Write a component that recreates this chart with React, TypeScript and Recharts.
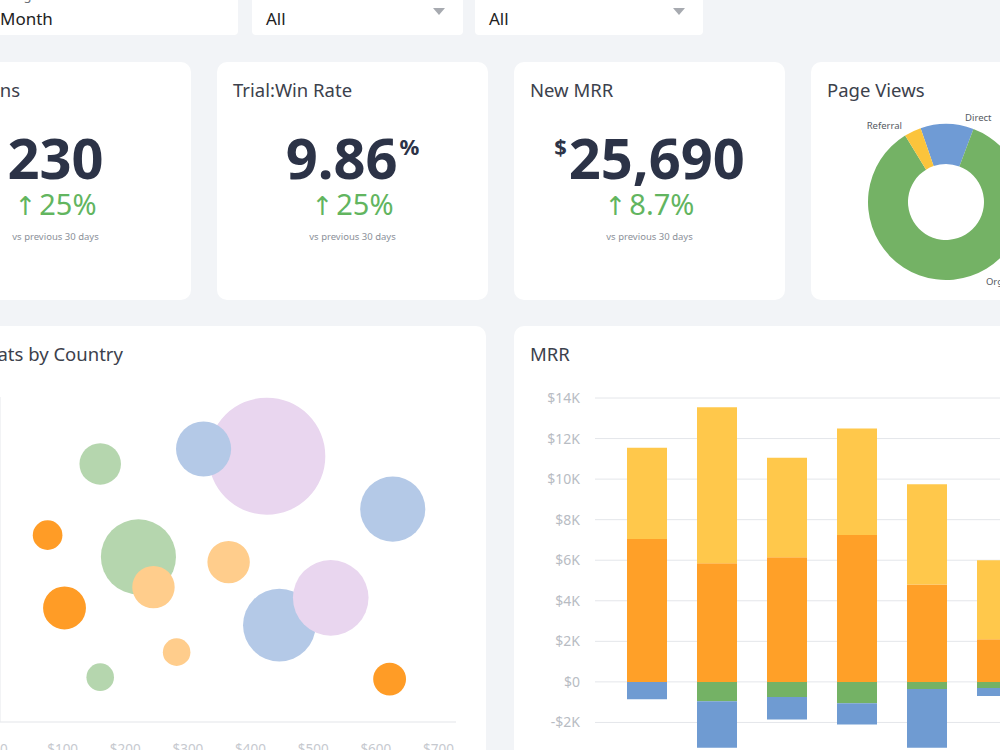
import React from 'react';
import {
  PieChart,
  Pie,
  Cell,
  ScatterChart,
  Scatter,
  XAxis,
  YAxis,
  ZAxis,
  BarChart,
  Bar,
  CartesianGrid,
} from 'recharts';

const FONT = '"Noto Sans", "DejaVu Sans", sans-serif';

// ---- Filters ----
const FILTER_LABELS = ['Range', 'Services', 'Posts'];
const FILTER_VALUES = ['Month', 'All', 'All'];

// ---- Page views by traffic source ----
const SOURCE_NAMES = ['Direct', 'Organic', 'Referral'];
const SOURCE_SHARE = [11, 85.5, 3.5];
const SOURCE_COLORS = ['#6f9bd5', '#74b265', '#fbc43c'];

// ---- MRR movements per month ----
const MONTHS = ['Jan', 'Feb', 'Mar', 'Apr', 'May', 'Jun'];
const MRR_NEW = [7050, 5850, 6150, 7250, 4800, 2100];
const MRR_EXPANSION = [4500, 7700, 4900, 5250, 4950, 3900];
const MRR_CONTRACTION = [0, -950, -750, -1050, -350, -300];
const MRR_CHURN = [-850, -2300, -1100, -1050, -2900, -400];
const MRR_TICKS = [-4000, -2000, 0, 2000, 4000, 6000, 8000, 10000, 12000, 14000];

// ---- Seats by country ----
const COUNTRIES = [
  'China', 'Canada', 'France', 'United States', 'Egypt', 'Germany', 'Brazil',
  'Argentina', 'Nigeria', 'Mexico', 'Japan', 'Chile', 'Spain', 'South Africa',
];
const SEAT_PRICE = [426, 325, 160, 627, 76, 221, 245, 365, 103, 446, 528, 282, 160, 622];
const SEAT_SCORE = [81.8, 84, 79.4, 65.5, 57.5, 50.8, 41.5, 49.2, 35.1, 29.8, 38.2, 21.5, 13.8, 13.2];
const SEAT_COUNT = [342, 76, 43, 106, 22, 141, 45, 45, 46, 132, 143, 19, 19, 27];
const COUNTRY_REGION = [
  'Asia', 'North America', 'Europe', 'North America', 'Africa', 'Europe', 'South America',
  'South America', 'Africa', 'North America', 'Asia', 'South America', 'Europe', 'Africa',
];
const PRICE_TICKS = [0, 100, 200, 300, 400, 500, 600, 700];

const REGION_COLORS: Record<string, string> = {
  Asia: '#e9d6ef',
  'North America': '#b4c9e7',
  Europe: '#b5d6ae',
  Africa: '#ff9c26',
  'South America': '#ffcd8c',
};

const pageViewData = SOURCE_NAMES.map((name, i) => ({ name, value: SOURCE_SHARE[i] }));

const mrrData = MONTHS.map((month, i) => ({
  month,
  newMrr: MRR_NEW[i],
  expansion: MRR_EXPANSION[i],
  contraction: MRR_CONTRACTION[i],
  churn: MRR_CHURN[i],
}));

const seatData = COUNTRIES.map((country, i) => ({
  country,
  price: SEAT_PRICE[i],
  score: SEAT_SCORE[i],
  seats: SEAT_COUNT[i],
  region: COUNTRY_REGION[i],
}));

// where each donut label sits: clockwise degrees from 12 o'clock, gap beyond the ring
const LABEL_PLACEMENT: Record<string, { angle: number; gap: number }> = {
  Direct: { angle: 21, gap: 12 },
  Organic: { angle: 144, gap: 20 },
  Referral: { angle: -39, gap: 20 },
};

const formatK = (v: number) => {
  if (v === 0) return '$0';
  const k = Math.abs(v) / 1000;
  return v < 0 ? `-$${k}K` : `$${k}K`;
};

const card: React.CSSProperties = {
  position: 'absolute',
  background: '#ffffff',
  borderRadius: 10,
};

const titleStyle: React.CSSProperties = {
  position: 'absolute',
  left: 16,
  top: 19,
  fontSize: 18.5,
  lineHeight: 1,
  color: '#3c414c',
  whiteSpace: 'nowrap',
};

function Filter({ left, width, label, value, arrow }: { left: number; width: number; label: string; value: string; arrow: boolean }) {
  return (
    <div style={{ ...card, left, top: -40, width, height: 75, borderRadius: 4 }}>
      <div style={{ position: 'absolute', left: 14, top: 29, fontSize: 13, lineHeight: 1, color: '#6b7079' }}>{label}</div>
      <div style={{ position: 'absolute', left: 14, top: 50, fontSize: 17, lineHeight: 1, color: '#222' }}>{value}</div>
      {arrow && (
        <div
          style={{
            position: 'absolute',
            right: 18,
            top: 48,
            width: 0,
            height: 0,
            borderLeft: '6px solid transparent',
            borderRight: '6px solid transparent',
            borderTop: '7px solid #a7aab0',
          }}
        />
      )}
    </div>
  );
}

function StatCard({ left, title, value, prefix, suffix, change }: { left: number; title: string; value: string; prefix?: string; suffix?: string; change: string }) {
  return (
    <div style={{ ...card, left, top: 62, width: 271, height: 238 }}>
      <div style={titleStyle}>{title}</div>
      <div
        style={{
          position: 'absolute',
          left: 0,
          right: 0,
          top: 67,
          textAlign: 'center',
          fontSize: 56,
          lineHeight: 1,
          fontWeight: 700,
          color: '#2c3347',
          whiteSpace: 'nowrap',
        }}
      >
        {prefix && <span style={{ fontSize: 22, verticalAlign: 'top', position: 'relative', top: 6, marginRight: 2 }}>{prefix}</span>}
        {value}
        {suffix && <span style={{ fontSize: 22, verticalAlign: 'top', position: 'relative', top: 6, marginLeft: 2 }}>{suffix}</span>}
      </div>
      <div
        style={{
          position: 'absolute',
          left: 0,
          right: 0,
          top: 127,
          textAlign: 'center',
          fontSize: 29,
          lineHeight: 1,
          color: '#62b55f',
          whiteSpace: 'nowrap',
        }}
      >
        <span style={{ fontFamily: '"DejaVu Sans", sans-serif', fontSize: 26, marginRight: 3 }}>↑</span>
        {change}
      </div>
      <div
        style={{
          position: 'absolute',
          left: 0,
          right: 0,
          top: 170,
          textAlign: 'center',
          fontSize: 9.5,
          lineHeight: 1,
          color: '#8b9099',
        }}
      >
        vs previous 30 days
      </div>
    </div>
  );
}

const renderSourceLabel = (props: any) => {
  const { cx, cy, outerRadius } = props;
  const name: string = props.name ?? props.payload?.name;
  const place = LABEL_PLACEMENT[name];
  if (!place) return null;
  const rad = (place.angle * Math.PI) / 180;
  const r = outerRadius + place.gap;
  const x = cx + r * Math.sin(rad);
  const y = cy - r * Math.cos(rad);
  return (
    <text x={x} y={y} textAnchor="middle" dominantBaseline="central" fontSize={9.5} fill="#555a62" fontFamily={FONT}>
      {name}
    </text>
  );
};

export default function App() {
  return (
    <div
      style={{
        position: 'fixed',
        left: 0,
        top: 0,
        width: 1000,
        height: 750,
        overflow: 'hidden',
        background: '#f2f4f7',
        fontFamily: FONT,
      }}
    >
      {/* filter bar */}
      <Filter left={-14} width={252} label={FILTER_LABELS[0]} value={FILTER_VALUES[0]} arrow={false} />
      <Filter left={252} width={211} label={FILTER_LABELS[1]} value={FILTER_VALUES[1]} arrow />
      <Filter left={475} width={228} label={FILTER_LABELS[2]} value={FILTER_VALUES[2]} arrow />

      {/* KPI row */}
      <StatCard left={-80} title="Trial Wins" value="230" change="25%" />
      <StatCard left={217} title="Trial:Win Rate" value="9.86" suffix="%" change="25%" />
      <StatCard left={514} title="New MRR" value="25,690" prefix="$" change="8.7%" />

      <div style={{ ...card, left: 811, top: 62, width: 271, height: 238 }}>
        <div style={titleStyle}>Page Views</div>
        <div style={{ position: 'absolute', left: 0, top: 40 }}>
          <PieChart width={271} height={198} margin={{ top: 0, right: 0, bottom: 0, left: 0 }}>
            <Pie
              data={pageViewData}
              dataKey="value"
              nameKey="name"
              cx={135}
              cy={100}
              innerRadius={38}
              outerRadius={78}
              startAngle={109}
              endAngle={-251}
              stroke="none"
              label={renderSourceLabel}
              labelLine={false}
              isAnimationActive={false}
            >
              {pageViewData.map((d, i) => (
                <Cell key={d.name} fill={SOURCE_COLORS[i]} />
              ))}
            </Pie>
          </PieChart>
        </div>
      </div>

      {/* seats by country bubble chart */}
      <div style={{ ...card, left: -86, top: 326, width: 572, height: 460 }}>
        <div style={titleStyle}>Total Seats by Country</div>
      </div>
      <div style={{ position: 'absolute', left: -50, top: 397 }}>
        <ScatterChart width={506} height={355} margin={{ top: 0, right: 0, bottom: 0, left: 0 }}>
          <XAxis
            type="number"
            dataKey="price"
            domain={[0, 728]}
            ticks={PRICE_TICKS}
            interval={0}
            tickFormatter={(v: number) => `$${v}`}
            axisLine={{ stroke: '#e3e5e9' }}
            tickLine={false}
            tickSize={0}
            tickMargin={22}
            height={30}
            tick={{ fill: '#c6c9cf', fontSize: 13.5, fontFamily: FONT }}
          />
          <YAxis
            type="number"
            dataKey="score"
            domain={[0, 100]}
            width={50}
            axisLine={{ stroke: '#e6e8eb' }}
            tickLine={false}
            tick={{ fill: '#c6c9cf', fontSize: 13, fontFamily: FONT }}
          />
          <ZAxis type="number" dataKey="seats" domain={[0, 400]} range={[0, 4000 * Math.PI]} />
          <Scatter data={seatData} isAnimationActive={false}>
            {seatData.map((d) => (
              <Cell key={d.country} fill={REGION_COLORS[d.region]} />
            ))}
          </Scatter>
        </ScatterChart>
      </div>

      {/* MRR stacked bars */}
      <div style={{ ...card, left: 514, top: 326, width: 560, height: 460 }}>
        <div style={titleStyle}>MRR</div>
      </div>
      <div style={{ position: 'absolute', left: 514, top: 393 }}>
        <BarChart
          width={518}
          height={375}
          data={mrrData}
          stackOffset="sign"
          barSize={40}
          margin={{ top: 5, right: 0, bottom: 5, left: 0 }}
        >
          <CartesianGrid vertical={false} stroke="#e4e6ea" />
          <XAxis dataKey="month" hide padding={{ left: 17, right: 0 }} />
          <YAxis
            width={81}
            domain={[-4000, 14000]}
            ticks={MRR_TICKS}
            interval={0}
            axisLine={false}
            tickLine={false}
            tickSize={0}
            tickMargin={15}
            tickFormatter={formatK}
            tick={{ fill: '#b8bcc3', fontSize: 14, fontFamily: FONT }}
          />
          <Bar dataKey="newMrr" stackId="mrr" fill="#ffa028" isAnimationActive={false} />
          <Bar dataKey="expansion" stackId="mrr" fill="#ffc84b" isAnimationActive={false} />
          <Bar dataKey="contraction" stackId="mrr" fill="#74b265" isAnimationActive={false} />
          <Bar dataKey="churn" stackId="mrr" fill="#6f9bd2" isAnimationActive={false} />
        </BarChart>
      </div>
    </div>
  );
}
